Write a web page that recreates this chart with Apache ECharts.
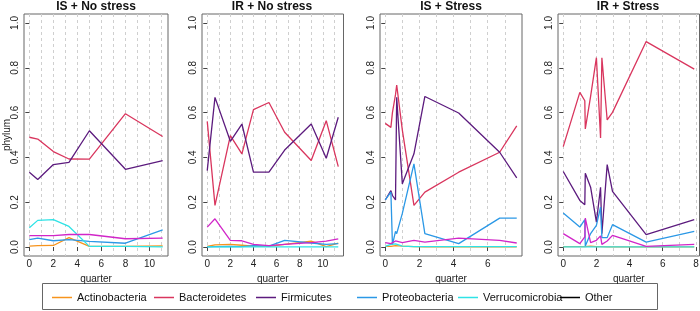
<!DOCTYPE html>
<html>
<head>
<meta charset="utf-8">
<script src="https://cdn.jsdelivr.net/npm/echarts@6/dist/echarts.min.js"></script>
<style>
  html, body { margin: 0; padding: 0; background: #fff; }
  #main { width: 700px; height: 311px; }
</style>
</head>
<body>
<div id="main"></div>
<script>
var panelTitles = ['IS + No stress', 'IR + No stress', 'IS + Stress', 'IR + Stress'];
var phyla = ['Actinobacteria', 'Bacteroidetes', 'Firmicutes', 'Proteobacteria', 'Verrucomicrobia', 'Other'];
var lineColors = ['#F7941D', '#D9365E', '#5C1B7E', '#2B98E6', '#2EE3E6', '#D126C8'];

// IS + No stress
var isNoQuarter = [0, 0.7, 2, 3.3, 5, 8, 11.1];
var isNoActino = [0.004, 0.006, 0.007, 0.042, 0.003, 0.003, 0.005];
var isNoBactero = [0.490, 0.482, 0.426, 0.393, 0.392, 0.595, 0.493];
var isNoFirmi = [0.334, 0.301, 0.368, 0.378, 0.519, 0.347, 0.386];
var isNoProteo = [0.033, 0.040, 0.028, 0.033, 0.025, 0.017, 0.077];
var isNoVerruco = [0.086, 0.119, 0.122, 0.092, 0.003, 0.003, 0.001];
var isNoOther = [0.051, 0.051, 0.051, 0.056, 0.056, 0.037, 0.040];

// IR + No stress
var irNoQuarter = [0, 0.67, 2, 3, 4, 5.34, 6.7, 9, 10.3, 11.34];
var irNoActino = [0.003, 0.010, 0.012, 0.008, 0.004, 0.003, 0.012, 0.026, 0.002, 0.017];
var irNoBactero = [0.561, 0.186, 0.497, 0.416, 0.613, 0.645, 0.512, 0.386, 0.564, 0.359];
var irNoFirmi = [0.341, 0.668, 0.472, 0.549, 0.334, 0.334, 0.433, 0.549, 0.396, 0.579];
var irNoProteo = [0.001, 0.002, 0.003, 0.002, 0.006, 0.004, 0.030, 0.018, 0.012, 0.015];
var irNoVerruco = [0.001, 0.001, 0.001, 0.001, 0.001, 0.001, 0.001, 0.001, 0.001, 0.001];
var irNoOther = [0.089, 0.126, 0.030, 0.028, 0.012, 0.006, 0.012, 0.020, 0.026, 0.036];

// IS + Stress
var isStQuarter = [0, 0.33, 0.42, 0.6, 0.67, 1.0, 1.68, 2.32, 4.3, 6.7, 7.7];
var isStActino = [0.003, 0.003, 0.004, 0.006, 0.008, 0.004, 0.002, 0.001, 0.001, 0.001, 0.001];
var isStBactero = [0.552, 0.534, 0.600, 0.680, 0.723, 0.522, 0.186, 0.245, 0.334, 0.423, 0.541];
var isStFirmi = [0.210, 0.252, 0.230, 0.210, 0.668, 0.282, 0.416, 0.672, 0.598, 0.423, 0.309];
var isStProteo = [0.210, 0.245, 0.010, 0.070, 0.060, 0.150, 0.371, 0.060, 0.015, 0.129, 0.129];
var isStVerruco = [0.003, 0.012, 0.014, 0.014, 0.013, 0.004, 0.002, 0.002, 0.002, 0.002, 0.002];
var isStOther = [0.020, 0.015, 0.016, 0.027, 0.028, 0.020, 0.030, 0.022, 0.040, 0.030, 0.018];

// IR + Stress
var irStQuarter = [0, 1.0, 1.3, 1.33, 1.65, 2.0, 2.25, 2.33, 2.65, 2.97, 5.0, 7.9];
var irStActino = [0.002, 0.002, 0.002, 0.002, 0.004, 0.002, 0.002, 0.002, 0.001, 0.001, 0.001, 0.001];
var irStBactero = [0.448, 0.690, 0.653, 0.527, 0.672, 0.845, 0.487, 0.845, 0.567, 0.601, 0.917, 0.794];
var irStFirmi = [0.337, 0.208, 0.189, 0.329, 0.267, 0.111, 0.267, 0.060, 0.368, 0.248, 0.055, 0.122];
var irStProteo = [0.152, 0.089, 0.122, 0.005, 0.060, 0.097, 0.178, 0.042, 0.042, 0.100, 0.022, 0.070];
var irStVerruco = [0.001, 0.001, 0.001, 0.001, 0.001, 0.001, 0.001, 0.001, 0.001, 0.001, 0.001, 0.001];
var irStOther = [0.060, 0.015, 0.045, 0.129, 0.020, 0.030, 0.050, 0.012, 0.027, 0.052, 0.003, 0.012];

// tick labels
var xTicks = [[0, 2, 4, 6, 8, 10], [0, 2, 4, 6, 8, 10], [0, 2, 4, 6], [0, 2, 4, 6, 8]];
var xGridLines = [
  [0, 1, 2, 3, 4, 5, 6, 7, 8, 9, 10, 11],
  [0, 1, 2, 3, 4, 5, 6, 7, 8, 9, 10, 11],
  [0, 1, 2, 3, 4, 5, 6, 7],
  [0, 1, 2, 3, 4, 5, 6, 7, 8]
];
var yTicks = [0, 0.2, 0.4, 0.6, 0.8, 1.0];

var panels = [
  {x: isNoQuarter, ys: [isNoActino, isNoBactero, isNoFirmi, isNoProteo, isNoVerruco, isNoOther]},
  {x: irNoQuarter, ys: [irNoActino, irNoBactero, irNoFirmi, irNoProteo, irNoVerruco, irNoOther]},
  {x: isStQuarter, ys: [isStActino, isStBactero, isStFirmi, isStProteo, isStVerruco, isStOther]},
  {x: irStQuarter, ys: [irStActino, irStBactero, irStFirmi, irStProteo, irStVerruco, irStOther]}
];

var gridLeft = [24, 202, 380, 558];
var gridWidth = [144, 141.5, 142, 141.5];
var titleCenter = [96, 272, 451, 628];
var legendTextX = [72, 174, 276, 377, 478, 580];
var font = 'Liberation Sans, Arial, Helvetica, sans-serif';

var chart = echarts.init(document.getElementById('main'), null, {renderer: 'canvas'});

var grids = [], xAxes = [], yAxes = [], series = [], titles = [];
panels.forEach(function (p, i) {
  var lo = p.x[0], hi = p.x[p.x.length - 1];
  var pad = (hi - lo) * 0.04;  // R 风格的 4% 边距
  grids.push({
    left: gridLeft[i], width: gridWidth[i], top: 14, height: 242,
    show: true, borderColor: '#666', borderWidth: 1,
    containLabel: false, outerBoundsMode: 'none'
  });
  // 主 x 轴：刻度和标签
  xAxes.push({
    type: 'value', gridIndex: i, position: 'bottom',
    min: lo - pad, max: hi + pad,
    axisLine: {show: false},
    axisTick: {show: true, length: 4, customValues: xTicks[i], lineStyle: {color: '#444'}},
    axisLabel: {customValues: xTicks[i], fontSize: 10, color: '#222', margin: 3, fontFamily: font},
    splitLine: {show: false},
    name: 'quarter', nameLocation: 'middle', nameGap: 17,
    nameTextStyle: {fontSize: 10, color: '#222', fontFamily: font}
  });
  // 辅助 x 轴：只画虚线网格
  xAxes.push({
    type: 'value', gridIndex: i, position: 'top',
    min: lo - pad, max: hi + pad,
    axisLine: {show: false},
    axisTick: {show: false, customValues: xGridLines[i]},
    axisLabel: {show: false},
    splitLine: {show: true, lineStyle: {color: '#cfcfcf', type: [3, 3], width: 1}}
  });
  yAxes.push({
    type: 'value', gridIndex: i,
    min: -0.04, max: 1.04,
    axisLine: {show: false},
    axisTick: {show: true, length: 4, customValues: yTicks, lineStyle: {color: '#444'}},
    axisLabel: {
      customValues: yTicks, rotate: 90, fontSize: 10, color: '#222', margin: 4, fontFamily: font,
      formatter: function (v) { return v.toFixed(1); }
    },
    splitLine: {show: false},
    name: i === 0 ? 'phylum' : '', nameLocation: 'middle', nameGap: 12, nameRotate: 90,
    nameMoveOverlap: false,
    nameTextStyle: {fontSize: 10, color: '#222', fontFamily: font}
  });
  titles.push({
    text: panelTitles[i], left: titleCenter[i], top: 1, textAlign: 'center', padding: 0,
    textStyle: {fontSize: 12, fontWeight: 'bold', color: '#111', fontFamily: font}
  });
  p.ys.forEach(function (vals, k) {
    series.push({
      name: phyla[k], type: 'line',
      xAxisIndex: i * 2, yAxisIndex: i,
      data: p.x.map(function (q, j) { return [q, vals[j]]; }),
      showSymbol: false, symbol: 'none',
      color: lineColors[k],
      itemStyle: {color: lineColors[k]},
      lineStyle: {width: 1.3, color: lineColors[k]},
      emphasis: {disabled: true},
      animation: false
    });
  });
});

var legends = phyla.map(function (name, k) {
  var item = {name: name};
  if (name === 'Other') item.itemStyle = {color: '#000'};
  return {
    data: [item], left: legendTextX[k] - 25, top: 287,
    icon: 'rect', itemWidth: 20, itemHeight: 1.5, selectedMode: false,
    textStyle: {fontSize: 11, color: '#111', fontFamily: font}
  };
});

var option = {
  backgroundColor: '#fff',
  animation: false,
  title: titles,
  legend: legends,
  grid: grids,
  xAxis: xAxes,
  yAxis: yAxes,
  series: series,
  graphic: [{
    type: 'rect', shape: {x: 42.5, y: 283.5, width: 615, height: 26},
    style: {fill: 'none', stroke: '#666', lineWidth: 1}, silent: true
  }]
};

chart.setOption(option);
</script>
</body>
</html>
